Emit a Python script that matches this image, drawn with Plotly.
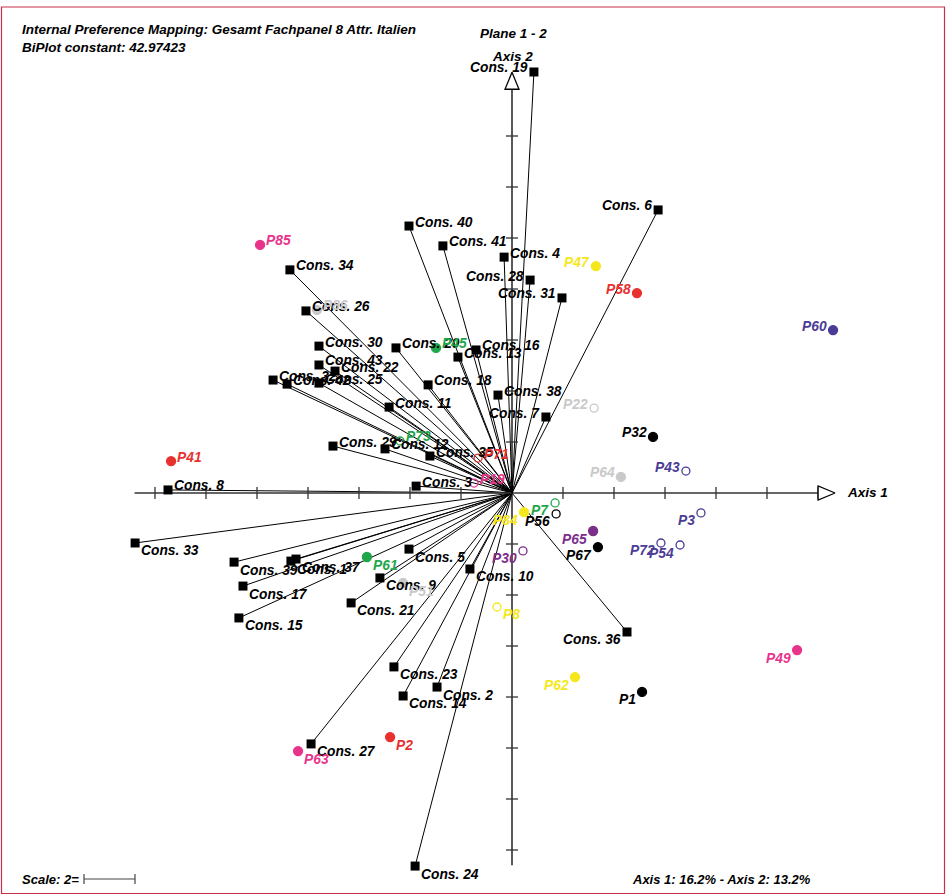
import plotly.graph_objects as go

# ---------------- data (biplot coordinates) ----------------
cons_labels = ["Cons. 19", "Cons. 6", "Cons. 40", "Cons. 41", "Cons. 4", "Cons. 28", "Cons. 31",
               "Cons. 34", "Cons. 26", "Cons. 30", "Cons. 43", "Cons. 22", "Cons. 32", "Cons. 42",
               "Cons. 25", "Cons. 20", "Cons. 13", "Cons. 16", "Cons. 18", "Cons. 11", "Cons. 38",
               "Cons. 7", "Cons. 29", "Cons. 12", "Cons. 35", "Cons. 3", "Cons. 8", "Cons. 33",
               "Cons. 39", "Cons. 1", "Cons. 37", "Cons. 17", "Cons. 15", "Cons. 5", "Cons. 9",
               "Cons. 21", "Cons. 10", "Cons. 36", "Cons. 23", "Cons. 2", "Cons. 14", "Cons. 27",
               "Cons. 24"]
cons_x = [0.86, 5.73, -4.04, -2.71, -0.31, 0.71, 1.96,
          -8.71, -8.08, -7.57, -7.57, -6.94, -9.37, -8.82,
          -7.57, -4.55, -2.12, -1.41, -3.29, -4.82, -0.55,
          1.33, -7.02, -4.98, -3.22, -3.76, -13.49, -14.78,
          -10.90, -8.67, -8.47, -10.55, -10.71, -4.04, -5.18,
          -6.31, -1.65, 4.51, -4.63, -2.94, -4.27, -7.88,
          -3.80]
cons_y = [16.51, 11.10, 10.47, 9.69, 9.25, 8.35, 7.65,
          8.75, 7.14, 5.76, 5.02, 4.78, 4.43, 4.27,
          4.31, 5.69, 5.33, 5.61, 4.24, 3.37, 3.84,
          2.98, 1.84, 1.73, 1.45, 0.27, 0.12, -1.96,
          -2.71, -2.67, -2.59, -3.65, -4.90, -2.20, -3.33,
          -4.31, -2.98, -5.45, -6.82, -7.61, -7.96, -9.84,
          -14.63]

prod_labels = ["P85", "P86", "P45", "P73", "P71", "P19", "P41", "P47", "P58", "P60",
               "P22", "P32", "P43", "P64", "P7", "P56", "P84", "P3", "P65", "P67",
               "P72", "P54", "P30", "P61", "P51", "P8", "P62", "P1", "P49", "P2", "P63"]
prod_x = [-9.88, -7.65, -2.98, -4.39, -1.33, -1.49, -13.37, 3.29, 4.90, 12.59,
          3.22, 5.53, 6.82, 4.27, 1.69, 1.73, 0.47, 7.41, 3.18, 3.37,
          5.84, 6.59, 0.43, -5.69, -4.27, -0.59, 2.47, 5.10, 11.18, -4.78, -8.39]
prod_y = [9.73, 7.18, 5.69, 2.04, 1.37, 0.39, 1.25, 8.90, 7.84, 6.39,
          3.33, 2.20, 0.86, 0.63, -0.39, -0.82, -0.75, -0.78, -1.49, -2.12,
          -1.96, -2.04, -2.27, -2.51, -3.53, -4.47, -7.22, -7.80, -6.16, -9.57, -10.12]
prod_group = ["magenta", "gray", "green", "green", "red", "magenta", "red", "yellow", "red", "blue",
              "gray", "black", "blue", "gray", "green", "black", "yellow", "blue", "purple", "black",
              "blue", "blue", "purple", "green", "gray", "yellow", "yellow", "black", "magenta", "red", "magenta"]
prod_filled = [True, True, True, False, False, False, True, True, True, True,
               False, True, False, True, False, False, True, False, True, True,
               False, False, False, True, True, False, True, True, True, True, True]

x_ticks = [-14, -12, -10, -8, -6, -4, -2, 2, 4, 6, 8, 10, 12]
y_ticks = [-14, -12, -10, -8, -6, -4, -2, 2, 4, 6, 8, 10, 12, 14]
axis_x_ext = [-14.8, 12.67]
axis_y_ext = [-14.6, 16.5]

header_1 = "Internal Preference Mapping: Gesamt Fachpanel 8 Attr. Italien"
header_2 = "BiPlot constant: 42.97423"
plane_txt = "Plane 1 - 2"
axis1_txt = "Axis 1"
axis2_txt = "Axis 2"
scale_txt = "Scale: 2="
inertia_txt = "Axis 1: 16.2% - Axis 2: 13.2%"
scale_len = 2

# ---------------- styles ----------------
W, H = 946, 895
PX = 25.5                      # pixels per unit
OX, OY = 512, 493              # origin in pixels
xr = [-OX / PX, (W - OX) / PX]
yr = [(OY - H) / PX, OY / PX]
u = 1 / PX                     # one pixel in data units

colors = {"magenta": "#E8338C", "gray": "#C9C9C9", "green": "#1FA64A", "red": "#E8312F",
          "yellow": "#F4E81C", "blue": "#4B3B95", "purple": "#7B2E8A", "black": "#000000"}
LBL_FONT = "Liberation Sans, Arial, sans-serif"
HDR_FONT = "Liberation Sans Narrow, Arial Narrow, Liberation Sans, Arial, sans-serif"
AXC = "#333333"

fig = go.Figure()

# consumer vectors
vx, vy = [], []
for x, y in zip(cons_x, cons_y):
    vx += [0, x, None]
    vy += [0, y, None]
fig.add_trace(go.Scatter(x=vx, y=vy, mode="lines", line=dict(color="black", width=1),
                         hoverinfo="skip", showlegend=False))

# axes
fig.add_trace(go.Scatter(x=[axis_x_ext[0], axis_x_ext[1] - 8 * u], y=[0, 0], mode="lines",
                         line=dict(color=AXC, width=1.3), hoverinfo="skip", showlegend=False))
fig.add_trace(go.Scatter(x=[0, 0], y=[axis_y_ext[0], axis_y_ext[1] - 8 * u], mode="lines",
                         line=dict(color="black", width=1.3), hoverinfo="skip", showlegend=False))
tl = 6 * u
tx, ty = [], []
for t in x_ticks:
    tx += [t, t, None]
    ty += [-tl, tl, None]
for t in y_ticks:
    tx += [-tl, tl, None]
    ty += [t, t, None]
fig.add_trace(go.Scatter(x=tx, y=ty, mode="lines", line=dict(color=AXC, width=1.3),
                         hoverinfo="skip", showlegend=False))
# arrow heads (open triangles)
ah, aw = 17 * u, 7 * u
fig.add_trace(go.Scatter(x=[axis_x_ext[1], axis_x_ext[1] - ah, axis_x_ext[1] - ah, axis_x_ext[1]],
                         y=[0, aw, -aw, 0], mode="lines", fill="toself", fillcolor="white",
                         line=dict(color="black", width=1.3), hoverinfo="skip", showlegend=False))
fig.add_trace(go.Scatter(x=[0, aw, -aw, 0],
                         y=[axis_y_ext[1], axis_y_ext[1] - ah, axis_y_ext[1] - ah, axis_y_ext[1]],
                         mode="lines", fill="toself", fillcolor="white",
                         line=dict(color="black", width=1.3), hoverinfo="skip", showlegend=False))

# scale bar
sx0 = (84 - OX) / PX
sy0 = (OY - 879) / PX
fig.add_trace(go.Scatter(x=[sx0, sx0, None, sx0, sx0 + scale_len, None, sx0 + scale_len, sx0 + scale_len],
                         y=[sy0 - 5 * u, sy0 + 5 * u, None, sy0, sy0, None, sy0 - 5 * u, sy0 + 5 * u],
                         mode="lines", line=dict(color="#444444", width=1.2),
                         hoverinfo="skip", showlegend=False))

# consumer markers
fig.add_trace(go.Scatter(x=cons_x, y=cons_y, mode="markers",
                         marker=dict(symbol="square", size=9, color="black", line=dict(width=0)),
                         hoverinfo="skip", showlegend=False))

# product markers
for filled in (True, False):
    idx = [i for i in range(len(prod_labels)) if prod_filled[i] == filled]
    fig.add_trace(go.Scatter(
        x=[prod_x[i] for i in idx], y=[prod_y[i] for i in idx], mode="markers",
        marker=dict(symbol="circle" if filled else "circle-open", size=9 if filled else 8,
                    color=[colors[prod_group[i]] for i in idx],
                    line=dict(width=1.3, color=[colors[prod_group[i]] for i in idx])),
        hoverinfo="skip", showlegend=False))

annotations = []


def add_label(x, y, text, color):
    right = x > 0
    annotations.append(dict(
        x=x, y=y, xref="x", yref="y", text="<b><i>%s</i></b>" % text, showarrow=False,
        xanchor="right" if right else "left", yanchor="middle",
        xshift=-4 if right else 4, yshift=4 if y > 0 else -8,
        font=dict(family=LBL_FONT, size=13.8, color=color)))


for x, y, t in zip(cons_x, cons_y, cons_labels):
    add_label(x, y, t, "black")
for x, y, t, g in zip(prod_x, prod_y, prod_labels, prod_group):
    add_label(x, y, t, colors[g])


def paper_text(px, py, text, anchor="left", size=13.5):
    annotations.append(dict(
        x=px / W, y=1 - py / H, xref="paper", yref="paper", text="<b><i>%s</i></b>" % text,
        showarrow=False, xanchor=anchor, yanchor="middle",
        font=dict(family=HDR_FONT, size=size, color="black")))


paper_text(20, 30, header_1)
paper_text(20, 48, header_2)
paper_text(478, 33, plane_txt)
paper_text(512, 56, axis2_txt, anchor="center")
paper_text(845, 492, axis1_txt)
paper_text(20, 879, scale_txt, size=13)
paper_text(630, 879, inertia_txt, size=13)

fig.update_layout(
    width=W, height=H, autosize=False,
    margin=dict(l=0, r=0, t=0, b=0),
    paper_bgcolor="white", plot_bgcolor="white",
    xaxis=dict(range=xr, visible=False, fixedrange=True),
    yaxis=dict(range=yr, visible=False, fixedrange=True),
    annotations=annotations,
    shapes=[dict(type="rect", xref="paper", yref="paper",
                 x0=1.5 / W, x1=1 - 1.5 / W, y0=1.5 / H, y1=1 - 7 / H,
                 line=dict(color="#C8304C", width=1.2), fillcolor="rgba(0,0,0,0)")],
)

fig.write_html("out.html", config={"displayModeBar": False},
               post_script="document.body.style.margin='0';document.body.style.padding='0';"
                           "document.documentElement.style.overflow='hidden';")
